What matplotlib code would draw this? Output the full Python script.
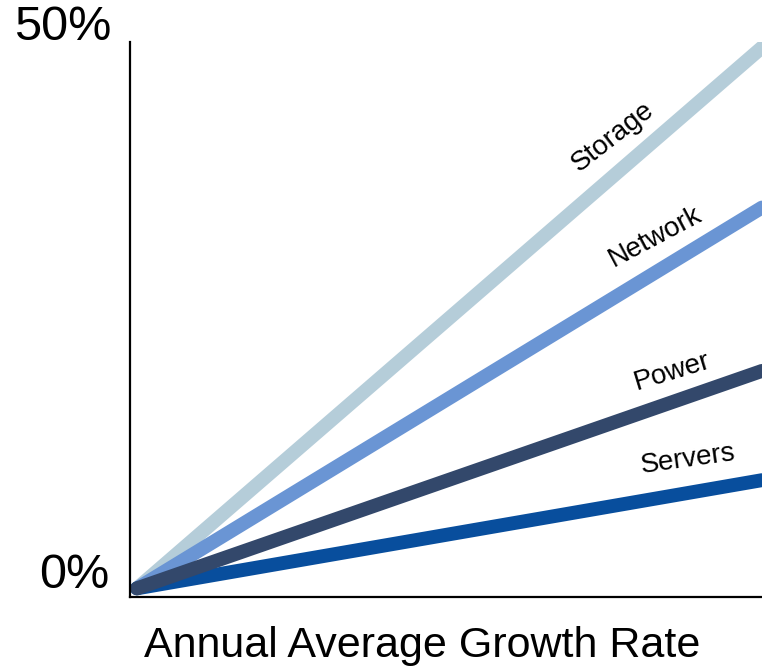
import matplotlib
matplotlib.use("Agg")
import matplotlib.pyplot as plt

series = ["Storage", "Network", "Power", "Servers"]
end_values = [50, 35.2, 20.1, 10.0]
colors = ["#B5CDD9", "#6A95D4", "#33486B", "#084E9D"]
label_pos = [(0.762, 41.7), (0.829, 32.5), (0.856, 20.0), (0.882, 11.9)]
label_rot = [38, 28, 17, 8]
draw_order = [0, 1, 3, 2]

plt.rcParams['font.family'] = ['Liberation Sans', 'DejaVu Sans']
W, H = 762, 669
fig = plt.figure(figsize=(W / 100, H / 100), dpi=100)
ax = fig.add_axes([130 / W, 1 - 597 / H, (762 - 130) / W, (597 - 42) / H])
ax.set_xlim(-0.0112, 1)
ax.set_ylim(-0.8, 50.5)

for i in draw_order:
    ax.plot([0, 1], [0, end_values[i]], color=colors[i], lw=10,
            solid_capstyle='round', clip_on=True)
for i in range(len(series)):
    ax.text(label_pos[i][0], label_pos[i][1], series[i], fontsize=20,
            rotation=label_rot[i], ha='center', va='center',
            rotation_mode='anchor')

for s in ['top', 'right']:
    ax.spines[s].set_visible(False)
for s in ['left', 'bottom']:
    ax.spines[s].set_linewidth(1.6)
    ax.spines[s].set_color('black')
ax.set_xticks([])
ax.set_yticks([])

fig.text(111 / W, 1 - 28 / H, "50%", fontsize=35, ha='right', va='center')
fig.text(109 / W, 1 - 575 / H, "0%", fontsize=35, ha='right', va='center')
fig.text(422 / W, 1 - 646 / H, "Annual Average Growth Rate", fontsize=31,
         ha='center', va='center')

fig.savefig("out.png", dpi=100)
